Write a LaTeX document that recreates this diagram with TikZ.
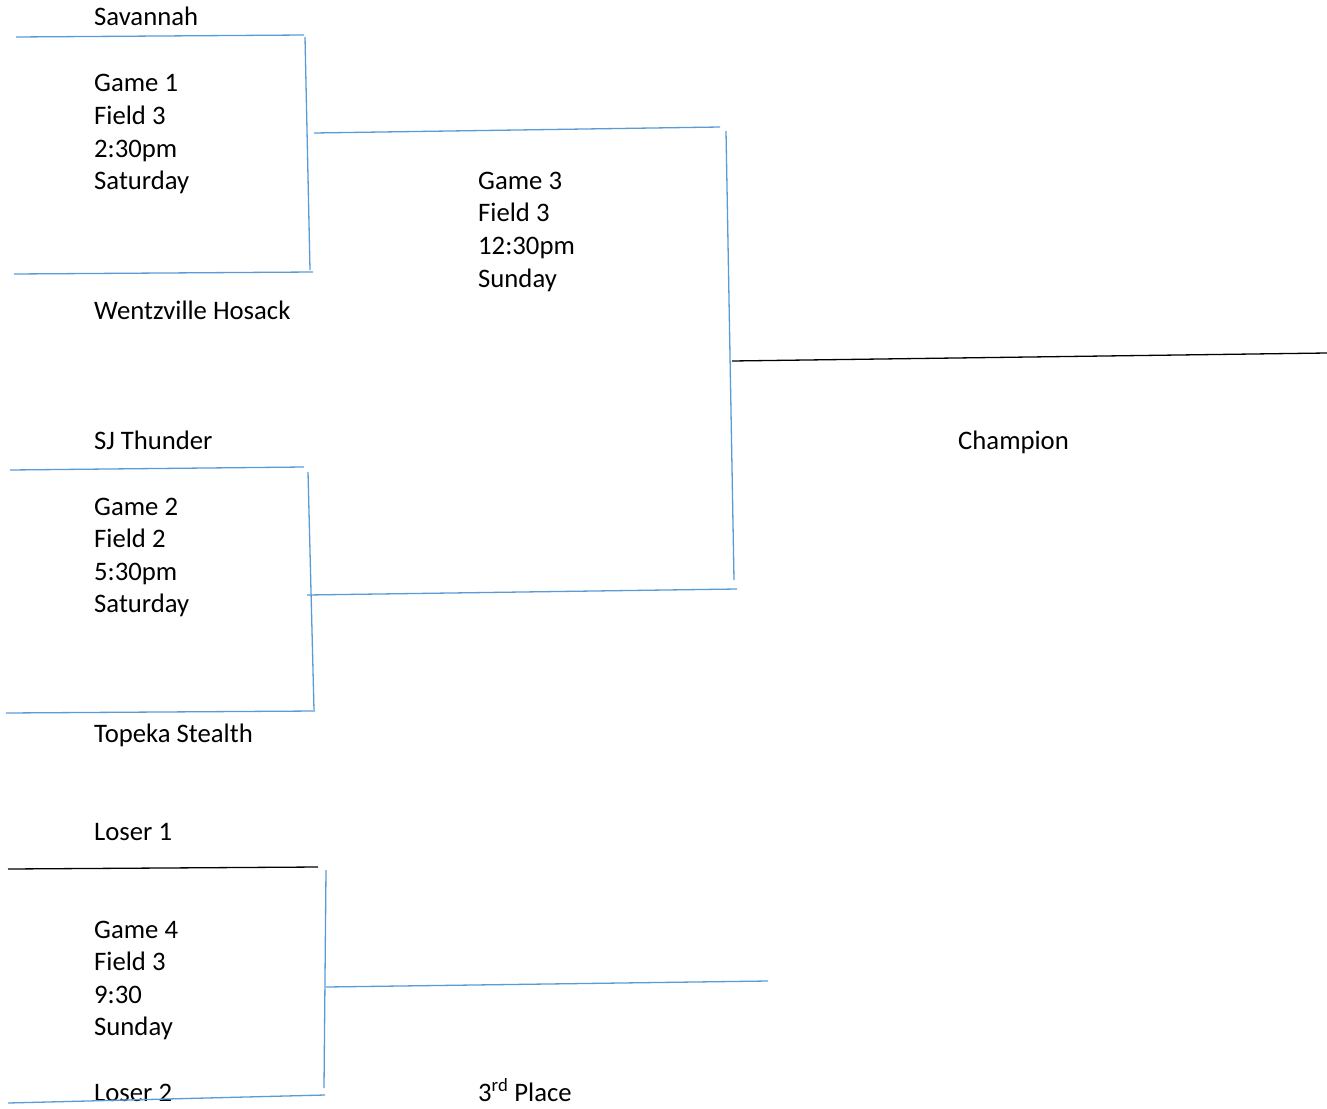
\documentclass[tikz,border=0pt]{standalone}
\usepackage{fontspec}
\setmainfont{Carlito}
\definecolor{bl}{HTML}{5B9BD5}
\begin{document}
\begin{tikzpicture}[x=1pt,y=-1pt,
  lbl/.style={anchor=base west,inner sep=0pt,font=\fontsize{26.7}{33}\selectfont},
  bline/.style={draw=bl,line width=1.3pt},
  kline/.style={draw=black,line width=1.3pt}]
\useasboundingbox (0,0) rectangle (1327,1108);
% texts
\node[lbl] (sav) at (94,26) {Savannah};
\node[lbl] (g1a) at (94,91) {Game 1};
\node[lbl] (g1b) at (94,124) {Field 3};
\node[lbl] (g1c) at (94,157) {2:30pm};
\node[lbl] (g1d) at (94,189) {Saturday};
\node[lbl] (wen) at (94,319) {Wentzville Hosack};
\node[lbl] (g3a) at (478,189) {Game 3};
\node[lbl] (g3b) at (478,221) {Field 3};
\node[lbl] (g3c) at (478,254) {12:30pm};
\node[lbl] (g3d) at (478,287) {Sunday};
\node[lbl] (sjt) at (94,449) {SJ Thunder};
\node[lbl] (g2a) at (94,515) {Game 2};
\node[lbl] (g2b) at (94,547) {Field 2};
\node[lbl] (g2c) at (94,580) {5:30pm};
\node[lbl] (g2d) at (94,612) {Saturday};
\node[lbl] (top) at (94,742) {Topeka Stealth};
\node[lbl] (champ) at (958,449) {Champion};
\node[lbl] (l1) at (94,840) {Loser 1};
\node[lbl] (g4a) at (94,938) {Game 4};
\node[lbl] (g4b) at (94,970) {Field 3};
\node[lbl] (g4c) at (94,1003) {9:30};
\node[lbl] (g4d) at (94,1035) {Sunday};
\node[lbl] (l2) at (94,1101) {Loser 2};
\node[lbl] (third) at (478,1101) {3\textsuperscript{rd} Place};
% coordinates
\coordinate (a1) at (16,37); \coordinate (a2) at (304,35);
\coordinate (a3) at (305,37); \coordinate (a4) at (310,270);
\coordinate (a5) at (14,274); \coordinate (a6) at (313,272);
\coordinate (a7) at (314,133); \coordinate (a8) at (720,127);
\coordinate (b1) at (10,470); \coordinate (b2) at (304,467);
\coordinate (b3) at (308,472); \coordinate (b4) at (314,710);
\coordinate (b5) at (6,713); \coordinate (b6) at (315,711);
\coordinate (b7) at (307,595); \coordinate (b8) at (737,589);
\coordinate (c1) at (726,131); \coordinate (c2) at (734,580);
\coordinate (c3) at (732,361); \coordinate (c4) at (1327,353);
\coordinate (d1) at (8,869); \coordinate (d2) at (318,867);
\coordinate (d3) at (326,870); \coordinate (d4) at (324,1088);
\coordinate (d5) at (8,1103); \coordinate (d6) at (325,1095);
\coordinate (d7) at (326,987); \coordinate (d8) at (768,981);
% lines
\draw[bline] (a1) -- (a2);
\draw[bline] (a3) -- (a4);
\draw[bline] (a5) -- (a6);
\draw[bline] (a7) -- (a8);
\draw[bline] (b1) -- (b2);
\draw[bline] (b3) -- (b4);
\draw[bline] (b5) -- (b6);
\draw[bline] (b7) -- (b8);
\draw[bline] (c1) -- (c2);
\draw[kline] (c3) -- (c4);
\draw[kline] (d1) -- (d2);
\draw[bline] (d3) -- (d4);
\draw[bline] (d5) -- (d6);
\draw[bline] (d7) -- (d8);
\end{tikzpicture}
\end{document}
